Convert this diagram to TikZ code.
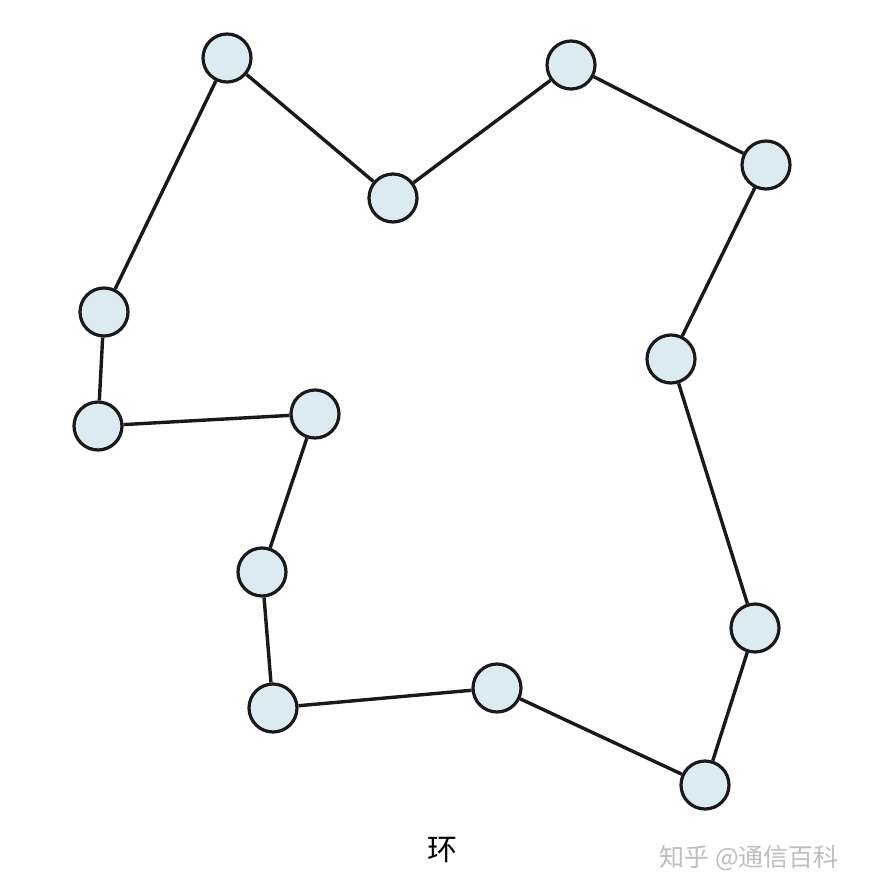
\documentclass[tikz,border=0pt]{standalone}
\usepackage{fontspec}
\newfontfamily\cjk{Noto Sans CJK SC}
\definecolor{nodefill}{RGB}{220,234,242}
\definecolor{edgecol}{RGB}{25,25,25}
\definecolor{wmgray}{RGB}{190,190,190}
\begin{document}
\begin{tikzpicture}[x=1pt,y=-1pt,
  vertex/.style={circle,draw=edgecol,fill=nodefill,line width=3.2pt,minimum size=48pt,inner sep=0pt},
  link/.style={draw=edgecol,line width=3.4pt}]
\useasboundingbox (0,0) rectangle (868,893);
\fill[white] (0,0) rectangle (868,893);
\node[vertex] (n1) at (227,58) {};
\node[vertex] (n2) at (393,198) {};
\node[vertex] (n3) at (571,65) {};
\node[vertex] (n4) at (766,165) {};
\node[vertex] (n5) at (671,359) {};
\node[vertex] (n6) at (755,628) {};
\node[vertex] (n7) at (705,785) {};
\node[vertex] (n8) at (497,688) {};
\node[vertex] (n9) at (273,708) {};
\node[vertex] (n10) at (262,572) {};
\node[vertex] (n11) at (315,414) {};
\node[vertex] (n12) at (98,426) {};
\node[vertex] (n13) at (104,312) {};
\foreach \a/\b in {1/2,2/3,3/4,4/5,5/6,6/7,7/8,8/9,9/10,10/11,11/12,12/13,13/1}
  { \draw[link] (n\a) -- (n\b); }
\node[font=\cjk\fontsize{30}{32}\selectfont] (lbl) at (442,850) {环};
\node[font=\cjk\fontsize{25}{27}\selectfont,text=wmgray,anchor=west] (wm) at (656,858) {知乎 @通信百科};
\end{tikzpicture}
\end{document}
